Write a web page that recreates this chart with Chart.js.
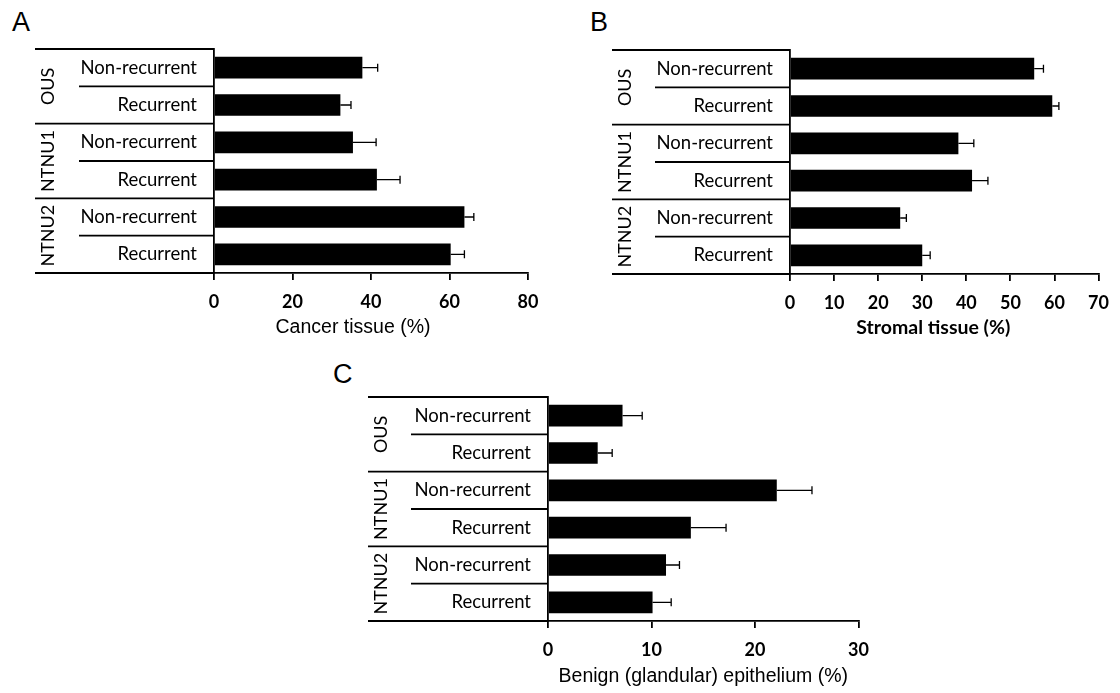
<!DOCTYPE html>
<html>
<head>
<meta charset="utf-8">
<script src="https://cdn.jsdelivr.net/npm/chart.js@4.4.1/dist/chart.umd.min.js"></script>
<style>
  html, body { margin: 0; padding: 0; background: #fff; }
  body { width: 1120px; height: 693px; position: relative; overflow: hidden; }
  .panel { position: absolute; }
  .letter { position: absolute; font: 27px "Liberation Sans", Arial, sans-serif; line-height: 27px; color: #000; }
</style>
</head>
<body>
<div class="letter" style="left:12px;top:9px">A</div>
<div class="letter" style="left:590px;top:9px">B</div>
<div class="letter" style="left:333px;top:361px">C</div>

<div class="panel" style="left:0;top:0;width:560px;height:345px"><canvas id="chartA"></canvas></div>
<div class="panel" style="left:560px;top:0;width:560px;height:345px"><canvas id="chartB"></canvas></div>
<div class="panel" style="left:320px;top:360px;width:560px;height:333px"><canvas id="chartC"></canvas></div>

<script>
/* ── data ── */
const groups   = ['OUS', 'NTNU1', 'NTNU2'];
const outcomes = ['Non-recurrent', 'Recurrent'];

const cancerMean = [37.8, 32.2, 35.4, 41.5, 63.8, 60.3];
const cancerErr  = [3.9, 2.7, 5.9, 5.9, 2.4, 3.5];
const cancerAxis = [0, 80, 20];     // min, max, step

const stromaMean = [55.4, 59.5, 38.2, 41.3, 25.0, 30.0];
const stromaErr  = [2.1, 1.5, 3.5, 3.6, 1.4, 1.8];
const stromaAxis = [0, 70, 10];

const benignMean = [7.2, 4.8, 22.1, 13.8, 11.4, 10.1];
const benignErr  = [1.9, 1.4, 3.4, 3.4, 1.3, 1.8];
const benignAxis = [0, 30, 10];

const labels = groups.flatMap(() => outcomes);

/* table rules, group names, error bars, axis title */
const tablePlugin = {
  id: 'table',
  afterDraw(chart, args, opts) {
    const { ctx, chartArea: a, scales: { y } } = chart;
    const xs = chart.scales.x;
    const g = opts.geo;
    const n = labels.length;
    const step = y.getPixelForValue(1) - y.getPixelForValue(0);
    ctx.save();
    ctx.strokeStyle = '#000';
    ctx.lineWidth = 1.8;

    // horizontal rules of the label table
    for (let i = 0; i <= n; i++) {
      const yy = i === 0 ? a.top : i === n ? a.bottom : y.getPixelForValue(i) - step / 2;
      const x0 = (i % 2 === 0) ? g.lineLeft : g.innerLeft;
      ctx.beginPath();
      ctx.moveTo(x0, yy);
      ctx.lineTo(a.left, yy);
      ctx.stroke();
    }

    // error bars (one-sided)
    ctx.lineWidth = 1.3;
    chart.getDatasetMeta(0).data.forEach((bar, i) => {
      const xe = xs.getPixelForValue(opts.mean[i] + opts.err[i]);
      ctx.beginPath();
      ctx.moveTo(bar.x, bar.y);
      ctx.lineTo(xe, bar.y);
      ctx.moveTo(xe, bar.y - 4);
      ctx.lineTo(xe, bar.y + 4);
      ctx.stroke();
    });

    // rotated group names
    ctx.fillStyle = '#000';
    ctx.font = '18px Lato, sans-serif';
    ctx.textAlign = 'center';
    ctx.textBaseline = 'middle';
    groups.forEach((name, k) => {
      const cy = (y.getPixelForValue(2 * k) + y.getPixelForValue(2 * k + 1)) / 2;
      ctx.save();
      ctx.translate(g.groupX, cy);
      ctx.rotate(-Math.PI / 2);
      ctx.fillText(name, 0, 0);
      ctx.restore();
    });

    // axis title
    ctx.font = opts.titleFont;
    ctx.textBaseline = 'middle';
    ctx.fillText(opts.title, (a.left + a.right) / 2 + g.titleDx, g.titleY);
    ctx.restore();
  }
};

function makePanel(id, mean, err, axis, title, titleFont, geo) {
  return new Chart(document.getElementById(id), {
    type: 'bar',
    data: {
      labels,
      datasets: [{ data: mean, backgroundColor: '#000', borderWidth: 0,
                   barPercentage: 0.58, categoryPercentage: 1 }]
    },
    options: {
      indexAxis: 'y',
      responsive: true,
      maintainAspectRatio: false,
      animation: false,
      layout: { padding: { left: geo.lineLeft, top: geo.plotTop, right: geo.W - geo.plotRight, bottom: 0 } },
      plugins: {
        legend: { display: false },
        tooltip: { enabled: false },
        table: { geo, mean, err, title, titleFont }
      },
      scales: {
        x: {
          type: 'linear', min: axis[0], max: axis[1],
          afterFit: s => { s.height = geo.H - geo.plotBottom; },
          ticks: { stepSize: axis[2], color: '#000', padding: 11,
                   font: { family: 'Lato', weight: 'bold', size: 18 } },
          grid: { display: true, drawOnChartArea: false, drawTicks: true, tickLength: 7,
                  color: '#000', lineWidth: 1.8 },
          border: { display: true, color: '#000', width: 1.8 }
        },
        y: {
          afterFit: s => { s.width = geo.plotLeft - geo.lineLeft; },
          ticks: { color: '#000', padding: 17, autoSkip: false,
                   font: { family: 'Lato', size: 18.5 } },
          grid: { display: false, drawTicks: false },
          border: { display: true, color: '#000', width: 1.8 }
        }
      }
    },
    plugins: [tablePlugin]
  });
}

makePanel('chartA', cancerMean, cancerErr, cancerAxis, 'Cancer tissue (%)',
  '19.5px "Liberation Sans", Arial, sans-serif',
  { W: 560, H: 345, lineLeft: 35, innerLeft: 79, plotLeft: 214, plotRight: 528,
    plotTop: 49, plotBottom: 273, groupX: 48, titleY: 328, titleDx: -18 });

makePanel('chartB', stromaMean, stromaErr, stromaAxis, 'Stromal tissue (%)',
  'bold 19.5px Lato, sans-serif',
  { W: 560, H: 345, lineLeft: 52, innerLeft: 95, plotLeft: 230, plotRight: 543,
    plotTop: 50, plotBottom: 274, groupX: 65, titleY: 328, titleDx: -11 });

makePanel('chartC', benignMean, benignErr, benignAxis, 'Benign (glandular) epithelium (%)',
  '19.5px "Liberation Sans", Arial, sans-serif',
  { W: 560, H: 333, lineLeft: 48, innerLeft: 91, plotLeft: 228, plotRight: 542,
    plotTop: 37, plotBottom: 261, groupX: 61, titleY: 317, titleDx: 0 });
</script>
</body>
</html>
